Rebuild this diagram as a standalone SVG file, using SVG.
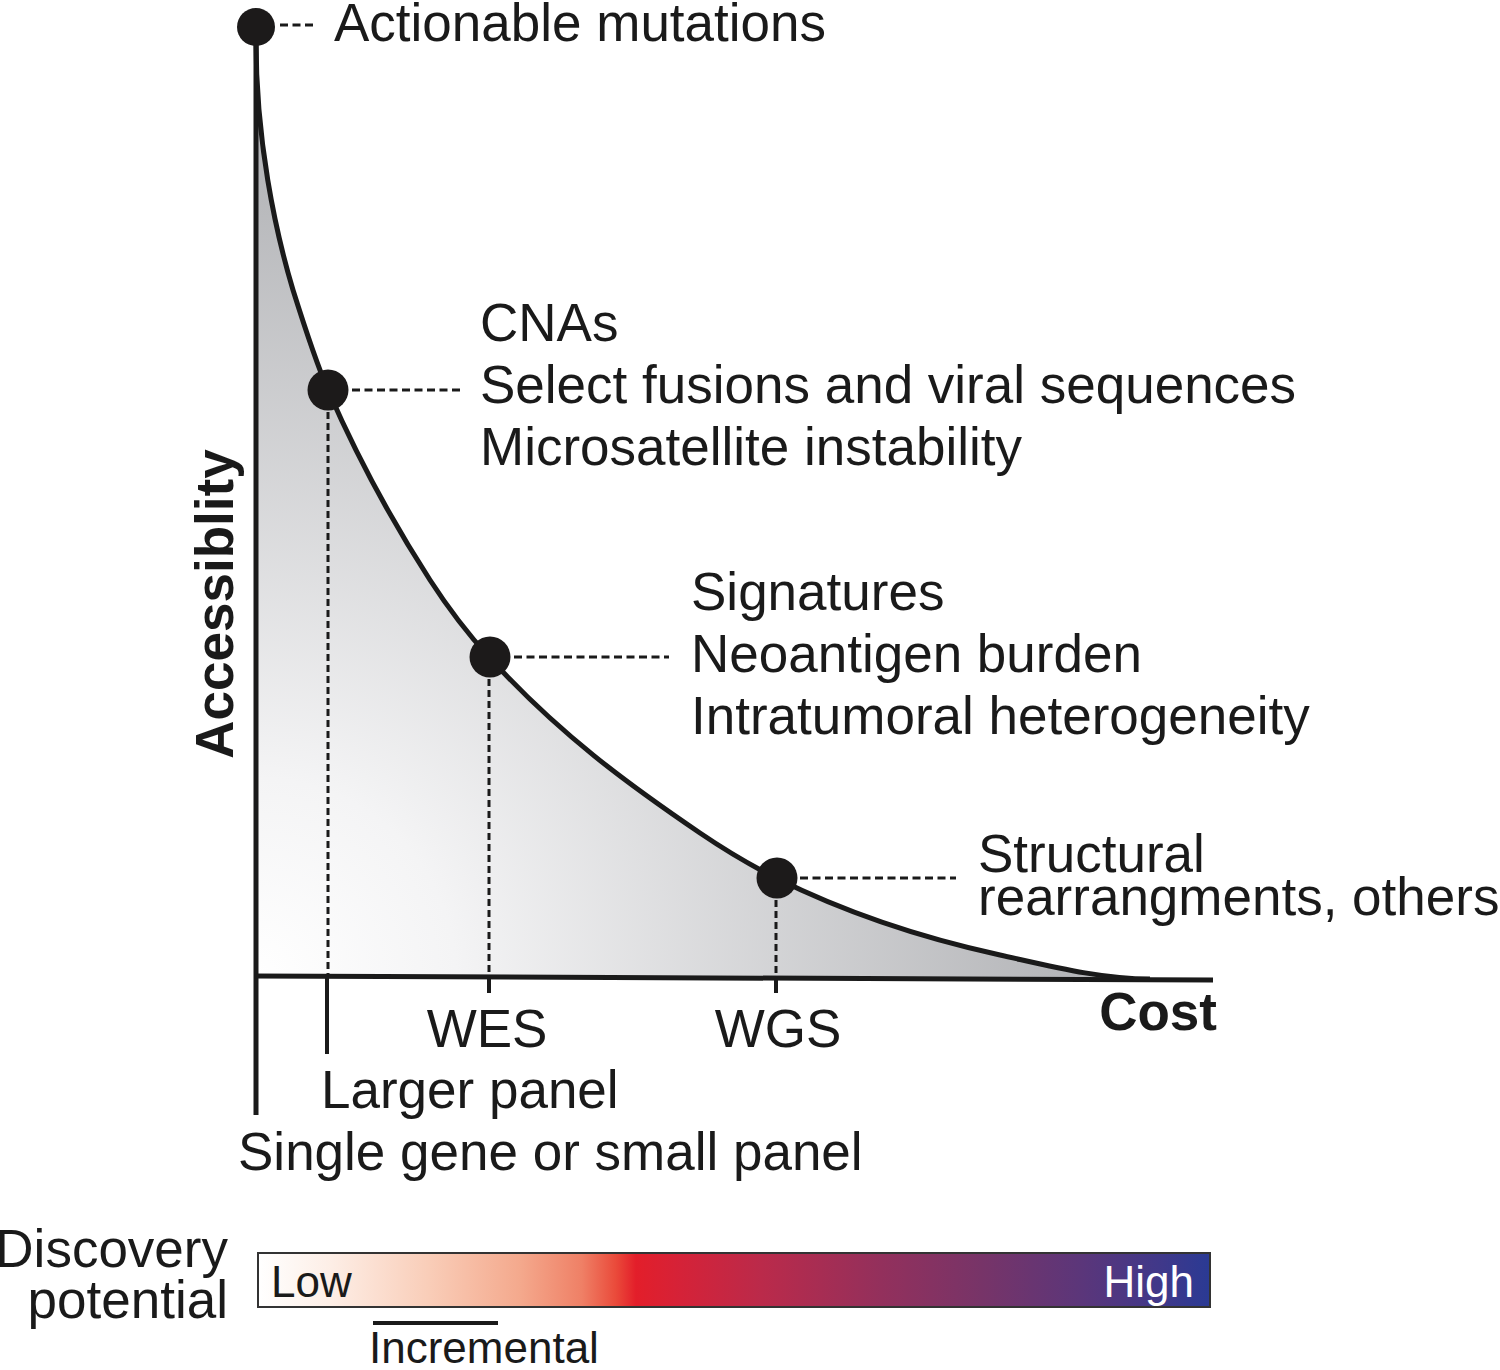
<svg xmlns="http://www.w3.org/2000/svg" width="1500" height="1370" viewBox="0 0 1500 1370">
<style>
  text { font-family: "Liberation Sans", Arial, Helvetica, sans-serif; fill: #1a1a1a; }
  .lbl { font-size: 53px; }
  .bold { font-size: 53px; font-weight: bold; }
  .small { font-size: 44px; }
  .axis { stroke: #1a1a1a; stroke-width: 5; fill: none; stroke-linecap: butt; }
  .dash { stroke: #1a1a1a; stroke-width: 2.8; fill: none; stroke-dasharray: 8 4.5; }
  .dot-v { stroke: #1a1a1a; stroke-width: 3; fill: none; stroke-dasharray: 7 4; }
  .tick { stroke: #1a1a1a; stroke-width: 4; }
  .dot { fill: #1c1a1a; }
</style>
<defs>
  <radialGradient id="areaGrad" gradientUnits="userSpaceOnUse" cx="256" cy="978" r="800">
    <stop offset="0" stop-color="#ffffff"/>
    <stop offset="0.25" stop-color="#f4f4f5"/>
    <stop offset="1" stop-color="#b6b7ba"/>
  </radialGradient>
  <linearGradient id="barGrad" x1="0" y1="0" x2="1" y2="0">
    <stop offset="0" stop-color="#ffffff"/>
    <stop offset="0.076" stop-color="#fdeee6"/>
    <stop offset="0.18" stop-color="#f9cdb8"/>
    <stop offset="0.275" stop-color="#f4a98d"/>
    <stop offset="0.34" stop-color="#ef8066"/>
    <stop offset="0.376" stop-color="#ea4a3a"/>
    <stop offset="0.397" stop-color="#e31e2a"/>
    <stop offset="0.444" stop-color="#d52238"/>
    <stop offset="0.528" stop-color="#bb2a4a"/>
    <stop offset="0.654" stop-color="#93305c"/>
    <stop offset="0.76" stop-color="#773468"/>
    <stop offset="0.865" stop-color="#5b367a"/>
    <stop offset="0.95" stop-color="#3f388a"/>
    <stop offset="1" stop-color="#2a3a94"/>
  </linearGradient>
</defs>

<g id="area">
  <path d="M256,40 C256,140 275,230 293,290 C304.7,327.3 316.3,363.2 328,390 C362,468.2 396,527.3 430,580 C449.7,610.5 469.3,635.4 489,657 C559.3,734.4 629.7,785.2 700,833 C725.3,850.2 750.7,865.3 776,878 C850.7,915.3 925.3,938.6 1000,955 C1050,966 1100,979 1150,979 L256,978 Z" fill="url(#areaGrad)"/>
</g>

<g id="axes">
  <line class="axis" x1="256" y1="30" x2="256" y2="1115"/>
  <line class="axis" x1="254" y1="976" x2="1213" y2="980"/>
  <line class="tick" x1="327" y1="978" x2="327" y2="1054"/>
  <line class="tick" x1="489" y1="978" x2="489" y2="993"/>
  <line class="tick" x1="776" y1="979" x2="776" y2="993"/>
  <text class="bold" x="1217" y="1030" text-anchor="end">Cost</text>
  <text class="bold" transform="translate(233,604) rotate(-90)" text-anchor="middle">Accessiblity</text>
</g>

<g id="curve">
  <path class="axis" d="M256,40 C256,140 275,230 293,290 C304.7,327.3 316.3,363.2 328,390 C362,468.2 396,527.3 430,580 C449.7,610.5 469.3,635.4 489,657 C559.3,734.4 629.7,785.2 700,833 C725.3,850.2 750.7,865.3 776,878 C850.7,915.3 925.3,938.6 1000,955 C1050,966 1100,979 1150,979"/>
</g>

<g id="connectors">
  <line class="dash" x1="280" y1="25" x2="315" y2="25"/>
  <line class="dash" x1="352" y1="390" x2="463" y2="390"/>
  <line class="dash" x1="514" y1="657" x2="669" y2="657"/>
  <line class="dash" x1="800" y1="878" x2="956" y2="878"/>
  <line class="dot-v" x1="328" y1="412" x2="328" y2="975"/>
  <line class="dot-v" x1="489" y1="679" x2="489" y2="975"/>
  <line class="dot-v" x1="776" y1="900" x2="776" y2="975"/>
</g>

<g id="node-actionable">
  <circle class="dot" cx="256" cy="27" r="19"/>
  <text class="lbl" x="334" y="41">Actionable mutations</text>
</g>

<g id="node-cnas">
  <circle class="dot" cx="328" cy="390" r="20.5"/>
  <text class="lbl" x="480" y="341">CNAs</text>
  <text class="lbl" x="480" y="403">Select fusions and viral sequences</text>
  <text class="lbl" x="480" y="465">Microsatellite instability</text>
</g>

<g id="node-signatures">
  <circle class="dot" cx="490" cy="657" r="20.5"/>
  <text class="lbl" x="691" y="610">Signatures</text>
  <text class="lbl" x="691" y="672">Neoantigen burden</text>
  <text class="lbl" x="691" y="734">Intratumoral heterogeneity</text>
</g>

<g id="node-structural">
  <circle class="dot" cx="777" cy="878" r="20.5"/>
  <text class="lbl" x="978" y="872">Structural</text>
  <text class="lbl" x="978" y="915">rearrangments, others</text>
</g>

<g id="xlabels">
  <text class="lbl" x="487" y="1047" text-anchor="middle">WES</text>
  <text class="lbl" x="778" y="1047" text-anchor="middle">WGS</text>
  <text class="lbl" x="321" y="1108">Larger panel</text>
  <text class="lbl" x="238" y="1170">Single gene or small panel</text>
</g>

<g id="legend">
  <text class="lbl" x="228" y="1267" text-anchor="end">Discovery</text>
  <text class="lbl" x="228" y="1318" text-anchor="end">potential</text>
  <rect x="258" y="1253" width="952" height="54" fill="url(#barGrad)" stroke="#333333" stroke-width="2"/>
  <text class="small" x="271" y="1297">Low</text>
  <text class="small" x="1194" y="1297" text-anchor="end" style="fill:#ffffff">High</text>
  <line x1="373" y1="1323" x2="498" y2="1323" stroke="#1a1a1a" stroke-width="4"/>
  <text class="small" x="369" y="1363">Incremental</text>
</g>
</svg>
